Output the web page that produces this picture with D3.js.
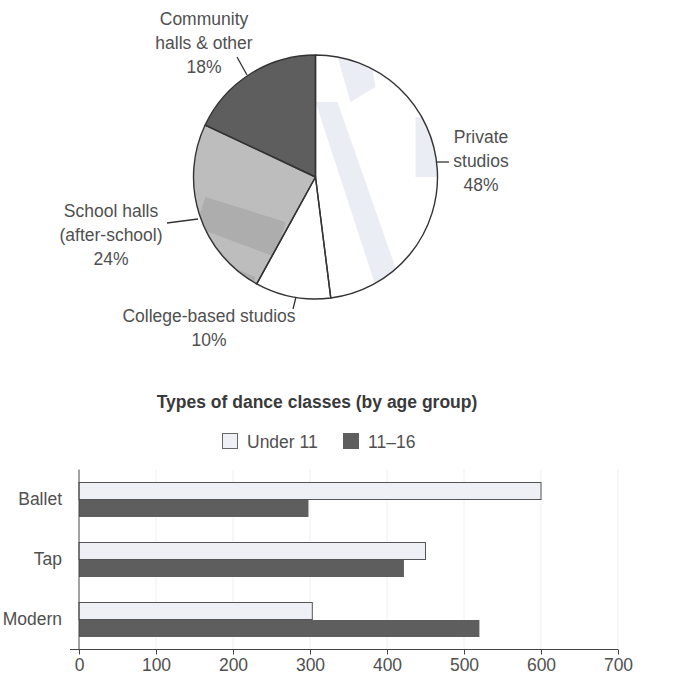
<!DOCTYPE html>
<html>
<head>
<meta charset="utf-8">
<script src="https://cdn.jsdelivr.net/npm/d3@7"></script>
<style>
  body { margin: 0; background: #fff; }
  svg { display: block; font-family: "Liberation Sans", Arial, sans-serif; }
</style>
</head>
<body>
<div id="chart"></div>
<script>
// pie data: where the classes take place
const venues = ["Private studios", "College-based studios", "School halls (after-school)", "Community halls & other"];
const venueShares = [48, 10, 24, 18];

// bar data: types of dance classes by age group
const danceTypes = ["Ballet", "Tap", "Modern"];
const seriesNames = ["Under 11", "11\u201316"];
const under11 = [600, 450, 303];
const age11to16 = [298, 422, 520];
const xTicks = [0, 100, 200, 300, 400, 500, 600, 700];

const W = 675, H = 675;
const svg = d3.select("#chart").append("svg")
    .attr("width", W)
    .attr("height", H);

const textColor = "#505050";
const fs = 17.5;

// ****************** Pie ***************************
const cx = 315.5, cy = 177, r = 122;
const pieFills = ["#ffffff", "#ffffff", "#bdbdbd", "#5e5e5e"];

const pie = d3.pie().sort(null).value(d => d.value);
const arcs = pie(venues.map((v, i) => ({ name: v, value: venueShares[i] })));
const arc = d3.arc().innerRadius(0).outerRadius(r);

const pieG = svg.append("g").attr("transform", `translate(${cx},${cy})`);

const defs = svg.append("defs");
arcs.forEach((a, i) => {
    defs.append("clipPath").attr("id", "slice" + i)
        .append("path").attr("d", arc(a));
});

pieG.selectAll("path.slice")
    .data(arcs)
    .join("path")
    .attr("class", "slice")
    .attr("d", arc)
    .attr("fill", (d, i) => pieFills[i]);

// faint scan marks inside slices (as in the printed original)
const stripe = pieG.append("g").attr("clip-path", "url(#slice0)");
stripe.append("path")
    .attr("d", "M0,-75 L22,-75 L85,105 L62,115 Z")
    .attr("fill", "#ebedf4");
stripe.append("path")
    .attr("d", "M22,-120 L55,-120 L60,-90 L35,-75 Z")
    .attr("fill", "#ebedf4");
stripe.append("path")
    .attr("d", "M100,-60 L125,-60 L125,0 L100,0 Z")
    .attr("fill", "#ebedf4");
const band = pieG.append("g").attr("clip-path", "url(#slice2)");
band.append("path")
    .attr("d", "M-110,20 L-30,45 L-40,80 L-120,50 Z")
    .attr("fill", "#adadad");
band.append("path")
    .attr("d", "M-120,75 L-60,100 L-65,115 L-120,95 Z")
    .attr("fill", "#adadad");

pieG.selectAll("path.edge")
    .data(arcs)
    .join("path")
    .attr("class", "edge")
    .attr("d", arc)
    .attr("fill", "none")
    .attr("stroke", "#333")
    .attr("stroke-width", 1.4)
    .attr("stroke-linejoin", "round");

// labels
const pieLabelLayout = [
    { lines: ["Private", "studios", venueShares[0] + "%"], x: 481, y: 143, line: [437, 162, 449, 162] },
    { lines: ["College-based studios", venueShares[1] + "%"], x: 209, y: 322, line: [296, 297, 293, 309] },
    { lines: ["School halls", "(after-school)", venueShares[2] + "%"], x: 111, y: 217, line: [167, 223, 198, 219] },
    { lines: ["Community", "halls & other", venueShares[3] + "%"], x: 204, y: 25, line: [237, 57, 247, 75] }
];

pieLabelLayout.forEach(l => {
    const t = svg.append("text")
        .attr("text-anchor", "middle")
        .attr("font-size", fs)
        .attr("fill", textColor);
    l.lines.forEach((s, i) => {
        t.append("tspan").attr("x", l.x).attr("y", l.y + i * 24).text(s);
    });
    svg.append("line")
        .attr("x1", l.line[0]).attr("y1", l.line[1])
        .attr("x2", l.line[2]).attr("y2", l.line[3])
        .attr("stroke", "#333")
        .attr("stroke-width", 1.3);
});

// ****************** Bars ***************************
const x0 = 79, x1 = 618, yTop = 469.5, yBot = 649.5;

const x = d3.scaleLinear().domain([0, 700]).range([x0, x1]);
const y = d3.scaleBand().domain(danceTypes).range([yTop, yBot])
    .paddingInner(0.4167).paddingOuter(0.2083);
const ySub = d3.scaleBand().domain(seriesNames).range([0, y.bandwidth()]);
const barFills = ["#eef0f6", "#5e5e5e"];

svg.append("text")
    .attr("x", 317).attr("y", 408)
    .attr("text-anchor", "middle")
    .attr("font-size", fs)
    .attr("font-weight", "bold")
    .attr("fill", "#3a3a3a")
    .text("Types of dance classes (by age group)");

// legend
const legendX = [222, 343];
seriesNames.forEach((s, i) => {
    svg.append("rect")
        .attr("x", legendX[i] + 0.5).attr("y", 433.5)
        .attr("width", 15).attr("height", 15)
        .attr("fill", barFills[i])
        .attr("stroke", i === 0 ? "#666" : "#5e5e5e");
    svg.append("text")
        .attr("x", legendX[i] + 25).attr("y", 448)
        .attr("font-size", fs)
        .attr("fill", textColor)
        .text(s);
});

// faint vertical gridlines
svg.append("g").selectAll("line")
    .data(xTicks.slice(1))
    .join("line")
    .attr("x1", d => x(d)).attr("x2", d => x(d))
    .attr("y1", yTop).attr("y2", yBot)
    .attr("stroke", "#f0f0f0");

const rows = danceTypes.map((c, i) => ({ cat: c, vals: [under11[i], age11to16[i]] }));

const rowG = svg.append("g").selectAll("g")
    .data(rows)
    .join("g")
    .attr("transform", d => `translate(0,${y(d.cat)})`);

rowG.selectAll("rect")
    .data(d => d.vals.map((v, j) => ({ series: seriesNames[j], j, v })))
    .join("rect")
    .attr("x", x(0))
    .attr("y", d => ySub(d.series) + 0.5)
    .attr("width", d => x(d.v) - x(0))
    .attr("height", ySub.bandwidth() - 0.5)
    .attr("fill", d => barFills[d.j])
    .attr("stroke", d => d.j === 0 ? "#555" : "none")
    .attr("stroke-width", 1);

// axes
const xAxis = svg.append("g")
    .attr("transform", `translate(0,${yBot})`)
    .call(d3.axisBottom(x).tickValues(xTicks).tickSize(5).tickPadding(4).tickFormat(d3.format("d")));
xAxis.select(".domain").remove();
xAxis.append("line")
    .attr("x1", 70).attr("x2", x1).attr("y1", 0).attr("y2", 0)
    .attr("stroke", "#444");
xAxis.selectAll(".tick line").attr("stroke", "#444");
xAxis.selectAll(".tick text")
    .attr("font-size", fs)
    .attr("font-family", "Liberation Sans, Arial, sans-serif")
    .attr("fill", textColor);

const yAxis = svg.append("g")
    .attr("transform", `translate(${x0},0)`)
    .call(d3.axisLeft(y).tickSize(0).tickPadding(17));
yAxis.select(".domain").attr("d", `M0,${yTop}V${yBot}`).attr("stroke", "#444");
yAxis.selectAll(".tick text")
    .attr("font-size", fs)
    .attr("font-family", "Liberation Sans, Arial, sans-serif")
    .attr("fill", textColor);
</script>
</body>
</html>
